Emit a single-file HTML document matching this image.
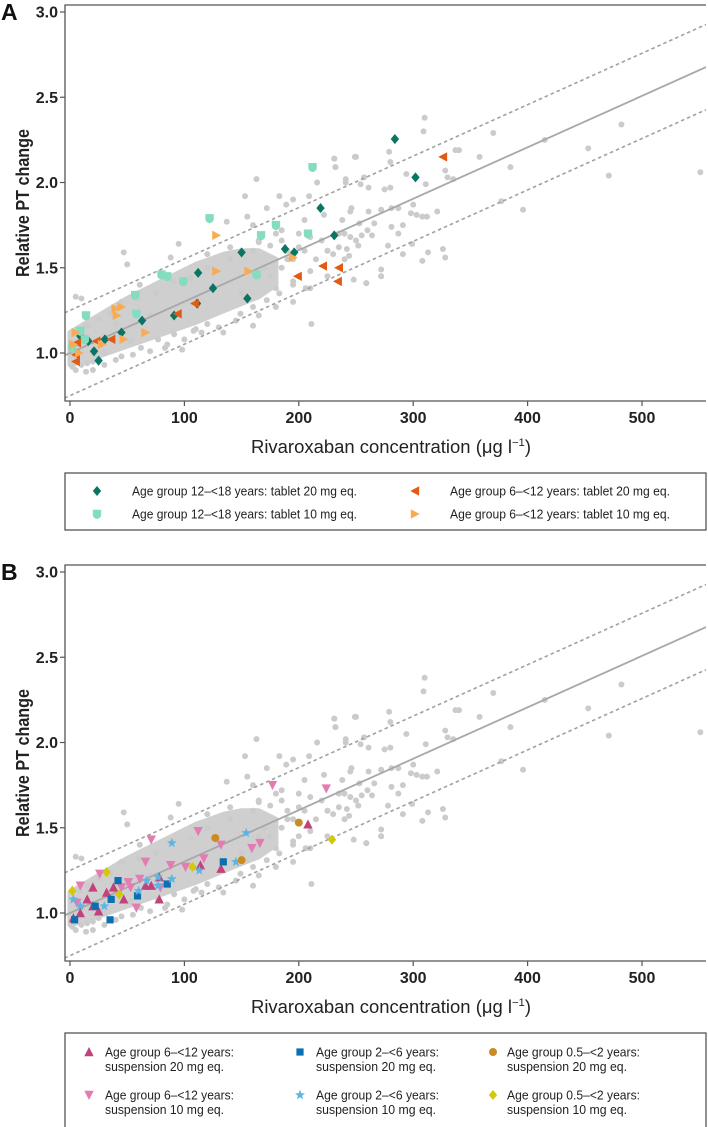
<!DOCTYPE html>
<html><head><meta charset="utf-8">
<style>
html,body{margin:0;padding:0;background:#fff;}
svg{display:block;font-family:"Liberation Sans",sans-serif;}
.tick{font-weight:bold;font-size:16px;fill:#222;}
.lab{font-size:18px;fill:#222;}
.ylab{font-size:18px;fill:#222;font-weight:bold;}
.leg{font-size:12.5px;fill:#222;}
.pl{font-weight:bold;font-size:23px;fill:#111;}
</style></head>
<body>
<svg id="chart" width="708" height="1127" viewBox="0 0 708 1127" xmlns="http://www.w3.org/2000/svg"></svg>
<script>
// ---- shared data ----
const xTicks = [0,100,200,300,400,500];
const yTicks = [1.0,1.5,2.0,2.5,3.0];
const fitIntercept = 1.0;
const fitSlope = 0.003016;
const bandOffset = 0.25;
const hullConc = [0,20,50,80,110,135,150,165,180];
const hullHigh = [1.12,1.20,1.32,1.42,1.52,1.58,1.60,1.60,1.55];
const hullLow  = [0.93,0.97,1.04,1.11,1.18,1.25,1.29,1.33,1.40];
const grayConc = [310,309,370,482,415,453,385,471,551,396,377,358,337,340,330,328,335,311,328,326,313,308,272,272,259,248,231,250,232,279,280,294,321,308,312,298,303,300,280,275,261,254,241,257,281,287,272,261,245,238,253,266,281,291,287,264,255,245,278,299,291,252,242,244,163,153,231,249,47,95,211,160,134,98,45,14,83,232,216,241,195,209,189,246,222,259,272,195,206,183,172,160,149,120,108,91,77,62,53,40,88,61,172,155,137,183,2,5,10,20,25,30,15,8,180,190,200,210,220,230,170,165,185,205,225,235,240,250,260,120,140,110,70,50,
 10,20,30,40,55,70,85,100,115,130,145,165,180,195,5,15,25,35,45,60,75,90,105,120,140,160,175,185,200,210,165,175,185,195,205,215,190,200,170,180,195,210,225,240,225,235,160,150,165];
const grayVal  = [2.38,2.30,2.29,2.34,2.25,2.20,2.09,2.04,2.06,1.84,1.89,2.15,2.19,2.19,2.03,2.07,2.02,1.99,1.56,1.61,1.59,1.54,1.49,1.45,1.41,1.43,2.14,2.15,2.09,2.18,2.12,2.05,1.83,1.80,1.80,1.82,1.81,1.87,1.97,1.96,1.97,1.99,2.02,2.03,1.85,1.85,1.84,1.83,1.83,1.78,1.76,1.76,1.74,1.75,1.70,1.69,1.69,1.68,1.63,1.64,1.58,1.63,1.61,1.57,2.02,1.92,2.14,2.15,1.59,1.64,1.17,1.16,1.12,1.02,0.98,0.89,1.03,2.09,2.00,2.00,1.90,1.92,1.87,1.85,1.81,1.41,1.45,1.40,1.38,1.35,1.31,1.27,1.23,1.17,1.13,1.11,1.08,1.03,1.07,1.17,1.56,1.40,1.85,1.80,1.77,1.92,0.92,0.90,0.93,0.95,0.97,1.00,0.94,1.13,1.70,1.55,1.62,1.48,1.66,1.58,1.50,1.66,1.72,1.78,1.60,1.62,1.70,1.66,1.72,1.58,1.62,1.14,1.22,1.52,1.32,
 0.90,0.93,0.96,0.99,1.01,1.05,1.08,1.12,1.15,1.19,1.22,1.27,1.30,1.33,1.16,1.20,1.23,1.30,1.32,1.35,1.42,1.44,1.50,1.55,1.60,1.63,1.66,1.70,1.68,1.65,1.45,1.50,1.55,1.60,1.55,1.60,1.45,1.50,1.38,1.42,1.38,1.45,1.55,1.60,1.70,1.75,1.35,1.45,1.58];
// ---- panel A series ----
const aDarkGreenC = [219,231,188,196,150,112,125,155,111,91,63,45,30.5,16,21,25,2,9,284,302];
const aDarkGreenV = [1.85,1.69,1.61,1.59,1.59,1.47,1.38,1.32,1.29,1.22,1.19,1.12,1.08,1.07,1.01,0.955,1.03,1.10,2.255,2.03];
const aTealC = [212,122,180,167,208,80,85,99,163,57,58,14,9,13,2];
const aTealV = [2.09,1.79,1.75,1.69,1.70,1.46,1.45,1.42,1.46,1.34,1.23,1.22,1.13,1.08,1.03];
const aOrangeC = [221,235,199,234,109,94,36,23,6,5,5,326];
const aOrangeV = [1.51,1.50,1.45,1.42,1.29,1.23,1.08,1.07,1.06,0.99,0.95,2.15];
const aLightOrC = [128,128,156,195,40,45,41,66,47,28,5,3,8];
const aLightOrV = [1.69,1.48,1.48,1.56,1.26,1.27,1.22,1.12,1.08,1.05,1.12,1.05,1.00];
// ---- panel B series ----
const bOchreC = [127,150,200];
const bOchreV = [1.44,1.31,1.53];
const bYellowC = [32,107,2,43,229];
const bYellowV = [1.24,1.27,1.13,1.11,1.43];
const bBlueC = [42,134,85,35,36,22,59,4];
const bBlueV = [1.19,1.30,1.17,0.96,1.08,1.04,1.10,0.96];
const bStarC = [89,154,113,145,77,67,89,60,77,30,9,3];
const bStarV = [1.41,1.47,1.25,1.30,1.21,1.19,1.20,1.13,1.16,1.04,1.04,1.08];
const bPinkUpC = [132,114,78,71,66,78,47,20,32,15,20,9,3,25,38,208];
const bPinkUpV = [1.26,1.28,1.21,1.16,1.16,1.08,1.08,1.15,1.12,1.08,1.04,1.00,0.97,1.01,1.15,1.52];
const bPinkDnC = [112,71,132,117,159,66,88,101,26,51,61,58,9,45,53,79,6,177,224,166];
const bPinkDnV = [1.48,1.43,1.40,1.32,1.38,1.30,1.28,1.27,1.23,1.18,1.20,1.03,1.16,1.15,1.15,1.15,1.06,1.75,1.73,1.41];

const NS = "http://www.w3.org/2000/svg";
const svg = document.getElementById('chart');
function mk(tag, attrs, parent){
  const e = document.createElementNS(NS, tag);
  for (const k in attrs) e.setAttribute(k, attrs[k]);
  (parent||svg).appendChild(e);
  return e;
}
const X0 = 70, XS = 1.144, YS = 170.5, LEFT = 65, RIGHT = 706;
function xs(c){ return X0 + c*XS; }

function marker(g, shape, cx, cy, color){
  let el;
  const s = 4.2;
  if (shape==='diamond') el = mk('polygon',{points:`${cx},${cy-s*1.2} ${cx+s},${cy} ${cx},${cy+s*1.2} ${cx-s},${cy}`,fill:color},g);
  else if (shape==='shield') el = mk('path',{d:`M${cx-s},${cy-s} L${cx+s},${cy-s} L${cx+s},${cy+0.5} Q${cx+s},${cy+s} ${cx},${cy+s+0.8} Q${cx-s},${cy+s} ${cx-s},${cy+0.5} Z`,fill:color},g);
  else if (shape==='left') el = mk('polygon',{points:`${cx-s-0.5},${cy} ${cx+s},${cy-s-0.5} ${cx+s},${cy+s+0.5}`,fill:color},g);
  else if (shape==='right') el = mk('polygon',{points:`${cx+s+0.5},${cy} ${cx-s},${cy-s-0.5} ${cx-s},${cy+s+0.5}`,fill:color},g);
  else if (shape==='up') el = mk('polygon',{points:`${cx},${cy-s-0.8} ${cx+s+0.5},${cy+s} ${cx-s-0.5},${cy+s}`,fill:color},g);
  else if (shape==='down') el = mk('polygon',{points:`${cx},${cy+s+0.8} ${cx+s+0.5},${cy-s} ${cx-s-0.5},${cy-s}`,fill:color},g);
  else if (shape==='square') el = mk('rect',{x:cx-3.6,y:cy-3.6,width:7.2,height:7.2,fill:color},g);
  else if (shape==='circle') el = mk('circle',{cx:cx,cy:cy,r:4,fill:color},g);
  else if (shape==='star'){
    let p=[];
    for(let i=0;i<10;i++){const r=i%2?2.2:5.2;const a=-Math.PI/2+i*Math.PI/5;p.push((cx+r*Math.cos(a)).toFixed(1)+','+(cy+r*Math.sin(a)).toFixed(1));}
    el = mk('polygon',{points:p.join(' '),fill:color},g);
  }
  return el;
}

function panel(id, top, bottom, yOne, series, letter){
  const ys = v => yOne - (v-1)*YS;
  const g = mk('g',{});
  
  
  const clip = mk('clipPath',{id:'clip'+id},g);
  mk('rect',{x:LEFT,y:top,width:RIGHT-LEFT,height:bottom-top},clip);
  const pa = mk('g',{'clip-path':`url(#clip${id})`},g);
  let pts=[];
  for(let i=0;i<hullConc.length;i++) pts.push(xs(hullConc[i])+','+ys(hullHigh[i]));
  for(let i=hullConc.length-1;i>=0;i--) pts.push(xs(hullConc[i])+','+ys(hullLow[i]));
  const hull = mk('polygon',{points:pts.join(' '),fill:'#cfcfcf','stroke':'#cfcfcf','stroke-width':5,'stroke-linejoin':'round'},pa);
  
  
  for(let i=0;i<grayConc.length;i++){
    const c = mk('circle',{cx:xs(grayConc[i]),cy:ys(grayVal[i]),r:3,fill:'#cbcbcb'},pa);
    
    
  }
  const c0=-10, c1=565;
  const lf = mk('line',{x1:xs(c0),y1:ys(fitIntercept+fitSlope*c0),x2:xs(c1),y2:ys(fitIntercept+fitSlope*c1),stroke:'#a8a8a8','stroke-width':1.8},pa);
  
  
  [bandOffset,-bandOffset].forEach((o,k)=>{
    const l = mk('line',{x1:xs(c0),y1:ys(fitIntercept+o+fitSlope*c0),x2:xs(c1),y2:ys(fitIntercept+o+fitSlope*c1),stroke:'#a0a0a0','stroke-width':1.6,'stroke-dasharray':'3.5,3'},pa);
    
    
  });
  series.forEach(s=>{
    for(let i=0;i<s.c.length;i++){
      const m = marker(pa, s.shape, xs(s.c[i]), ys(s.v[i]), s.color);
      
      
    }
  });
  const ax = mk('path',{d:`M${RIGHT},${top} L${LEFT},${top} L${LEFT},${bottom} L${RIGHT},${bottom}`,fill:'none',stroke:'#555','stroke-width':1.3},g);
  
  
  yTicks.forEach(v=>{
    mk('line',{x1:LEFT-5,y1:ys(v),x2:LEFT,y2:ys(v),stroke:'#555','stroke-width':1.2},g);
    const t = mk('text',{x:LEFT-7,y:ys(v)+5.5,'text-anchor':'end',class:'tick'},g);
    t.textContent = v.toFixed(1);
    
    
  });
  xTicks.forEach(c=>{
    mk('line',{x1:xs(c),y1:bottom,x2:xs(c),y2:bottom+5,stroke:'#555','stroke-width':1.2},g);
    const t = mk('text',{x:xs(c),y:bottom+22,'text-anchor':'middle',class:'tick'},g);
    t.textContent = c;
    
    
  });
  const yl = mk('text',{x:0,y:0,transform:`translate(29,${(top+bottom)/2}) rotate(-90)`,'text-anchor':'middle',class:'ylab',textLength:148,lengthAdjust:'spacingAndGlyphs'},g);
  yl.textContent = 'Relative PT change';
  
  
  const xl = mk('text',{x:251,y:bottom+52,class:'lab',textLength:280,lengthAdjust:'spacingAndGlyphs'},g);
  xl.innerHTML = 'Rivaroxaban concentration (μg l<tspan dy="-7" font-size="11">−1</tspan><tspan dy="7">)</tspan>';
  
  
  const pl = mk('text',{x:1,y:yOne-(3-1)*YS+8,class:'pl'},g);
  pl.textContent = letter;
  
  
}

const seriesA = [
  {name:'age12-18-tablet20',shape:'diamond',color:'#0b7563',c:aDarkGreenC,v:aDarkGreenV},
  {name:'age12-18-tablet10',shape:'shield',color:'#84dcc1',c:aTealC,v:aTealV},
  {name:'age6-12-tablet20',shape:'left',color:'#e25b12',c:aOrangeC,v:aOrangeV},
  {name:'age6-12-tablet10',shape:'right',color:'#f8ab54',c:aLightOrC,v:aLightOrV}
];
const seriesB = [
  {name:'age6-12-susp20',shape:'up',color:'#c2437c',c:bPinkUpC,v:bPinkUpV},
  {name:'age6-12-susp10',shape:'down',color:'#e27cb2',c:bPinkDnC,v:bPinkDnV},
  {name:'age2-6-susp20',shape:'square',color:'#0c6fb1',c:bBlueC,v:bBlueV},
  {name:'age2-6-susp10',shape:'star',color:'#5cb5e2',c:bStarC,v:bStarV},
  {name:'age05-2-susp20',shape:'circle',color:'#c98b22',c:bOchreC,v:bOchreV},
  {name:'age05-2-susp10',shape:'diamond',color:'#d3c80a',c:bYellowC,v:bYellowV}
];
panel('a', 5, 401, 353, seriesA, 'A');
panel('b', 565, 961, 913, seriesB, 'B');

function legendBox(name, y, h){
  const r = mk('rect',{x:65,y:y,width:641,height:h,fill:'#fff',stroke:'#555','stroke-width':1.3});
  
  
}
legendBox('legend-a', 473, 57);
legendBox('legend-b', 1033, 100);
const legA = [
  [97,491,132,'Age group 12–<18 years: tablet 20 mg eq.',0,225],
  [97,514,132,'Age group 12–<18 years: tablet 10 mg eq.',1,225],
  [415,491,450,'Age group 6–<12 years: tablet 20 mg eq.',2,220],
  [415,514,450,'Age group 6–<12 years: tablet 10 mg eq.',3,220]
];
legA.forEach(d=>{
  const s = seriesA[d[4]];
  const m = marker(svg, s.shape, d[0], d[1], s.color);
  
  
  const t = mk('text',{x:d[2],y:d[1]+4.5,class:'leg',textLength:d[5],lengthAdjust:'spacingAndGlyphs'});
  t.textContent = d[3];
  
  
});
const legB = [
  [89,1052,105,'Age group 6–<12 years:','suspension 20 mg eq.',0,129,119],
  [89,1095,105,'Age group 6–<12 years:','suspension 10 mg eq.',1,129,119],
  [300,1052,316,'Age group 2–<6 years:','suspension 20 mg eq.',2,123,120],
  [300,1095,316,'Age group 2–<6 years:','suspension 10 mg eq.',3,123,120],
  [493,1052,507,'Age group 0.5–<2 years:','suspension 20 mg eq.',4,133,120],
  [493,1095,507,'Age group 0.5–<2 years:','suspension 10 mg eq.',5,133,120]
];
legB.forEach(d=>{
  const s = seriesB[d[5]];
  const m = marker(svg, s.shape, d[0], d[1], s.color);
  
  
  const t = mk('text',{x:d[2],y:d[1]+4.5,class:'leg',textLength:d[6],lengthAdjust:'spacingAndGlyphs'});
  t.textContent = d[3];
  
  
  const t2 = mk('text',{x:d[2],y:d[1]+19,class:'leg',textLength:d[7],lengthAdjust:'spacingAndGlyphs'});
  t2.textContent = d[4];
  
  
});
</script>
</body></html>
